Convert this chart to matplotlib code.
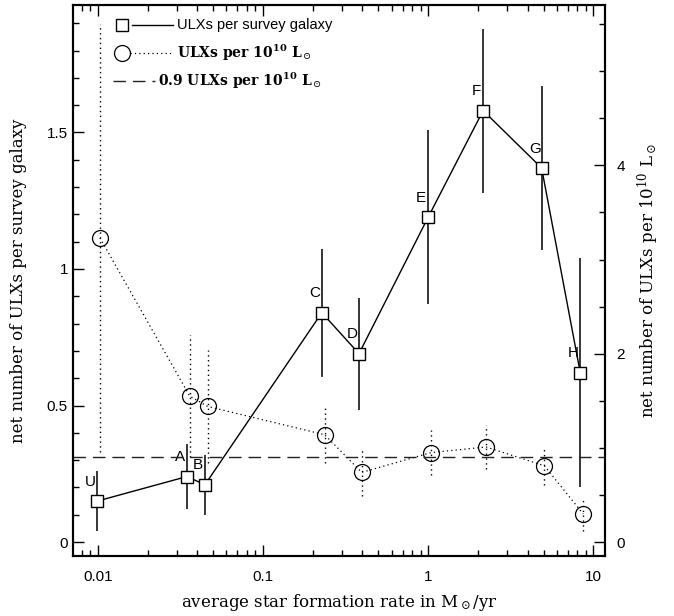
import numpy as np
import matplotlib.pyplot as plt
from matplotlib.ticker import MultipleLocator, LogLocator, NullFormatter, FixedLocator

plt.rcParams['mathtext.fontset'] = 'dejavuserif'

# groups of survey galaxies, binned by star formation rate
groups = ['U', 'A', 'B', 'C', 'D', 'E', 'F', 'G', 'H']
sfr_gal = [0.0099, 0.0346, 0.0445, 0.227, 0.381, 1.0, 2.15, 4.86, 8.33]
ulx_per_gal = [0.15, 0.24, 0.21, 0.84, 0.69, 1.19, 1.58, 1.37, 0.62]
ulx_per_gal_err = [0.11, 0.12, 0.11, 0.235, 0.205, 0.32, 0.30, 0.30, 0.42]

# same bins normalised by blue luminosity
sfr_lum = [0.0103, 0.036, 0.0463, 0.236, 0.396, 1.04, 2.24, 5.05, 8.67]
ulx_per_lum = [3.23, 1.55, 1.44, 1.14, 0.74, 0.95, 1.01, 0.81, 0.30]
ulx_per_lum_err = [2.27, 0.65, 0.60, 0.30, 0.25, 0.24, 0.23, 0.20, 0.18]

mean_rate = 0.9

sans = 'Liberation Sans'
serif = 'DejaVu Serif'

fig = plt.figure(figsize=(6.74, 6.16), dpi=100)
ax = fig.add_axes([0.108, 0.0974, 0.79, 0.8946])
ax2 = ax.twinx()

ax.set_xscale('log')
ax.set_xlim(0.00705, 11.8)
ax.set_ylim(-0.051, 1.967)
ax2.set_ylim(-0.051 * 2.9, 1.967 * 2.9)

# per-galaxy rates
ax.errorbar(sfr_gal, ulx_per_gal, yerr=ulx_per_gal_err, fmt='none',
            ecolor='black', elinewidth=1.1, capsize=0)
ax.plot(sfr_gal, ulx_per_gal, '-', color='black', lw=1.0)
ax.plot(sfr_gal, ulx_per_gal, 's', ms=8, mfc='white', mec='black', mew=1.0)
for g, x, y in zip(groups, sfr_gal, ulx_per_gal):
    ax.annotate(g, (x, y), xytext=(-5, 14), textcoords='offset points',
                ha='center', va='center', fontsize=11, family=sans)

# per-luminosity rates
eb = ax2.errorbar(sfr_lum, ulx_per_lum, yerr=ulx_per_lum_err, fmt='none',
                  ecolor='black', elinewidth=1.0, capsize=0)
eb[2][0].set_linestyle((0, (1, 2.5)))
ax2.plot(sfr_lum, ulx_per_lum, color='black', lw=0.9, ls=(0, (1, 2.5)))
ax2.plot(sfr_lum, ulx_per_lum, 'o', ms=11.5, mfc='none', mec='black', mew=0.9)
ax2.axhline(mean_rate, color='#222222', lw=1.0, ls=(0, (9, 5)))

# ticks
for a in (ax, ax2):
    a.tick_params(which='both', direction='in', width=1.0, labelsize=11)
    a.tick_params(which='major', length=8)
    a.tick_params(which='minor', length=4)
ax.tick_params(which='both', top=True, right=False)
ax.tick_params(axis='x', pad=10)
ax2.tick_params(pad=8)
ax.xaxis.set_major_locator(FixedLocator([0.01, 0.1, 1, 10]))
ax.xaxis.set_minor_locator(LogLocator(base=10, subs=np.arange(2, 10)))
ax.xaxis.set_minor_formatter(NullFormatter())
ax.set_xticklabels(['0.01', '0.1', '1', '10'], family=sans)
ax.yaxis.set_major_locator(FixedLocator([0, 0.5, 1, 1.5]))
ax.yaxis.set_minor_locator(MultipleLocator(0.1))
ax.set_yticklabels(['0', '0.5', '1', '1.5'], family=sans)
ax2.yaxis.set_major_locator(FixedLocator([0, 2, 4]))
ax2.yaxis.set_minor_locator(MultipleLocator(0.5))
ax2.set_yticklabels(['0', '2', '4'], family=sans)

for a in (ax, ax2):
    for s in a.spines.values():
        s.set_linewidth(1.5)

ax.set_xlabel(r'average star formation rate in M$_\odot$/yr',
              family=serif, fontsize=12, labelpad=6)
ax.set_ylabel('net number of ULXs per survey galaxy', family=serif,
              fontsize=12, labelpad=14)
ax2.set_ylabel(r'net number of ULXs per 10$^{10}$ L$_\odot$', family=serif,
               fontsize=12, labelpad=8)

# key
tr = ax.transAxes
def fx(px):
    return (px - 73) / 532
def fy(py):
    return (556 - py) / 551

ax.plot([fx(122)], [fy(25)], 's', ms=8, mfc='white', mec='black', mew=1.0,
        transform=tr, clip_on=False)
ax.plot([fx(132), fx(173)], [fy(25)] * 2, '-', color='black', lw=1.0, transform=tr)
ax.text(fx(177), fy(25), 'ULXs per survey galaxy', transform=tr,
        va='center', fontsize=10.5, family=sans)
ax.plot([fx(122)], [fy(53)], 'o', ms=11.5, mfc='none', mec='black', mew=0.9,
        transform=tr)
ax.plot([fx(130), fx(173)], [fy(53)] * 2, color='black', lw=0.9,
        ls=(0, (1, 2.5)), transform=tr)
ax.text(fx(177), fy(53), r'ULXs per 10$^{\mathbf{10}}$ L$_\odot$', transform=tr,
        va='center', fontsize=10, family=serif, weight='bold')
ax.plot([fx(113), fx(155)], [fy(81)] * 2, color='#222222', lw=1.0,
        ls=(0, (9, 5)), transform=tr)
ax.text(fx(158), fy(81), r'0.9 ULXs per 10$^{\mathbf{10}}$ L$_\odot$', transform=tr,
        va='center', fontsize=10, family=serif, weight='bold')

fig.savefig('out.png', dpi=100)
